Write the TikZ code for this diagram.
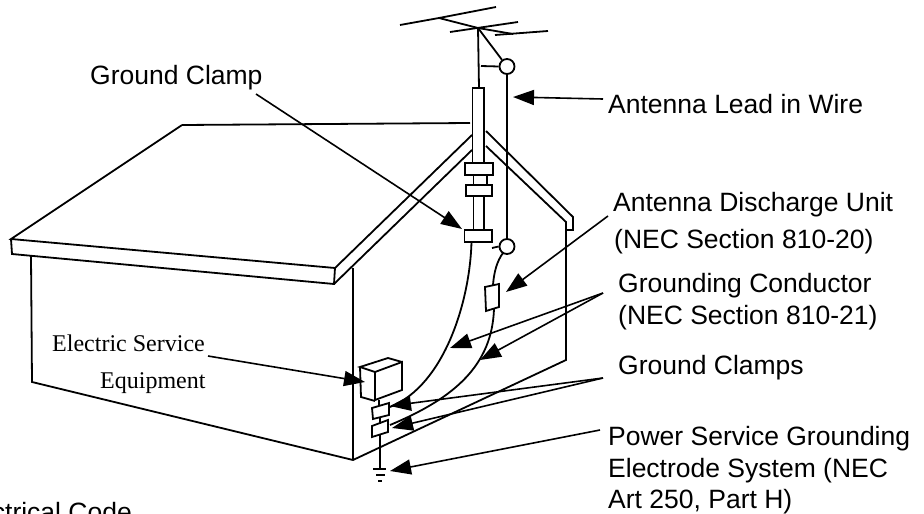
\documentclass[tikz,border=0pt]{standalone}
\usepackage{fontspec}
\setmainfont{Liberation Sans}
\newfontfamily\timesf{Liberation Serif}
\usetikzlibrary{arrows.meta}
\tikzset{
  lbl/.style={anchor=base west,inner sep=0pt,font=\fontsize{26.5}{30}\selectfont,text=black},
  serif/.style={anchor=base west,inner sep=0pt,font=\timesf\fontsize{24}{28}\selectfont,text=black},
  art/.style={line width=1.8pt,line join=miter,black},
  arw/.style={line width=1.6pt,black,-{Triangle[length=21pt,width=15pt]}},
  ring/.style={circle,draw,line width=1.8pt,minimum size=15pt,inner sep=0pt}
}
\begin{document}
\begin{tikzpicture}[x=1pt,y=-1pt]
\useasboundingbox (0,0) rectangle (924,514);
\begin{scope}
\clip (0,0) rectangle (924,514);
% labels
\node[lbl] (lLead) at (608,113) {Antenna Lead in Wire};
\node[lbl] (lDis1) at (613,211) {Antenna Discharge Unit};
\node[lbl] (lDis2) at (614,248) {(NEC Section 810-20)};
\node[lbl] (lCond1) at (618,292.5) {Grounding Conductor};
\node[lbl] (lCond2) at (618,324.5) {(NEC Section 810-21)};
\node[lbl] (lClamps) at (618,374.5) {Ground Clamps};
\node[lbl] (lPow1) at (608,445.5) {Power Service Grounding};
\node[lbl] (lPow2) at (608,477) {Electrode System (NEC};
\node[lbl] (lPow3) at (608,508.5) {Art 250, Part H)};
\node[lbl] (lClamp) at (90,84.5) {Ground Clamp};
\node[serif] (lEl1) at (52,351) {Electric Service};
\node[serif] (lEl2) at (100,388) {Equipment};
\node[lbl,anchor=base east] (lCode) at (132,521) {ctrical Code};
\end{scope}
% house
\draw[art] (182,125) -- (470,123);
\draw[art] (335,268) -- (11,239) -- (182,125);
\draw[art] (11,239) -- (12,254) -- (334,284) -- (335,268);
\draw[art] (335,268) -- (472,135);
\draw[art] (334,284) -- (472,150);
\draw[art] (486,131) -- (573,217) -- (573,230) -- (566,230);
\draw[art] (486,146) -- (566,222) -- (566,360) -- (353,460) -- (32,382) -- (31,256);
\draw[art] (353,268) -- (353,460);
% antenna
\coordinate (hub) at (478,28);
\coordinate (boom) at (439,18);
\draw[art] (400,25) -- (boom) -- (496,7);
\draw[art] (boom) -- (hub) -- (513,34);
\draw[art] (450,32) -- (518,22);
\draw[art] (495,35) -- (548,31);
\node[ring] (c1) at (507,66.5) {};
\node[ring] (c2) at (507,246.5) {};
\coordinate (mastTop) at (479,88);
\draw[art] (hub) -- (mastTop);
\draw[art] (hub) -- (c1);
\draw[art] (c1.south) -- (c2.north);
\coordinate (s1) at (481,66);
\coordinate (s2) at (492,248);
\draw[art] (s1) -- (c1.west);
\draw[art] (s2) -- (c2.west);
% mast
\draw[art] (472.5,163) -- (472.5,88) -- (484,88) -- (484,163);
\draw[art] (465,163) rectangle (493,175);
\draw[art] (473.5,175) -- (473.5,185) (487,175) -- (487,185);
\draw[art] (466,185) rectangle (492,196);
\draw[art] (473.5,196) -- (473.5,230) (484,196) -- (484,230);
\draw[art] (464.5,230) rectangle (492,242);
% conductors
\coordinate (a1) at (471.5,242);
\coordinate (a2) at (390,407);
\draw[art] (a1) .. controls (470,300) and (445,385) .. (a2);
\draw[art] (503,253) .. controls (497,261) and (494,272) .. (493,285);
\draw[art] (494,309) .. controls (492,365) and (455,398) .. (390,425);
\draw[art] (485,287) -- (499,284) -- (499,307) -- (486,311) -- cycle;
% service box
\draw[art] (375,372) -- (402,362) -- (402,390) -- (375,400) -- cycle;
\draw[art] (375,372) -- (360,367) -- (388,358) -- (402,362);
\draw[art] (360,367) -- (361,397) -- (375,401);
\draw[art] (379,400) -- (379,405);
\draw[art] (372,408) -- (389,403) -- (389,415) -- (373,419) -- cycle;
\draw[art] (380,418) -- (380,424);
\draw[art] (372,426) -- (388,420) -- (388,432) -- (372,437) -- cycle;
\draw[art] (380,435) -- (380,469);
\draw[art] (373,469) -- (386,469);
\draw[art] (376,475) -- (385,475);
\draw[art] (378,481) -- (382,481);
% arrows
\coordinate (gS) at (256,94);   \coordinate (gT) at (462,229);
\coordinate (leS) at (603,99);  \coordinate (leT) at (513,97);
\coordinate (dS) at (608,216);  \coordinate (dT) at (506,292);
\coordinate (eS) at (208,356);  \coordinate (eT) at (365,382);
\coordinate (cS) at (603,293);  \coordinate (cT1) at (450,348); \coordinate (cT2) at (480,360);
\coordinate (kS) at (603,378);  \coordinate (kT1) at (390,406); \coordinate (kT2) at (392,428);
\coordinate (pS) at (600,430);  \coordinate (pT) at (390,471);
\draw[arw] (gS) -- (gT);
\draw[arw] (leS) -- (leT);
\draw[arw] (dS) -- (dT);
\draw[arw] (eS) -- (eT);
\draw[arw] (cS) -- (cT1);
\draw[arw] (cS) -- (cT2);
\draw[arw] (kS) -- (kT1);
\draw[arw] (kS) -- (kT2);
\draw[arw] (pS) -- (pT);
\end{tikzpicture}
\end{document}
